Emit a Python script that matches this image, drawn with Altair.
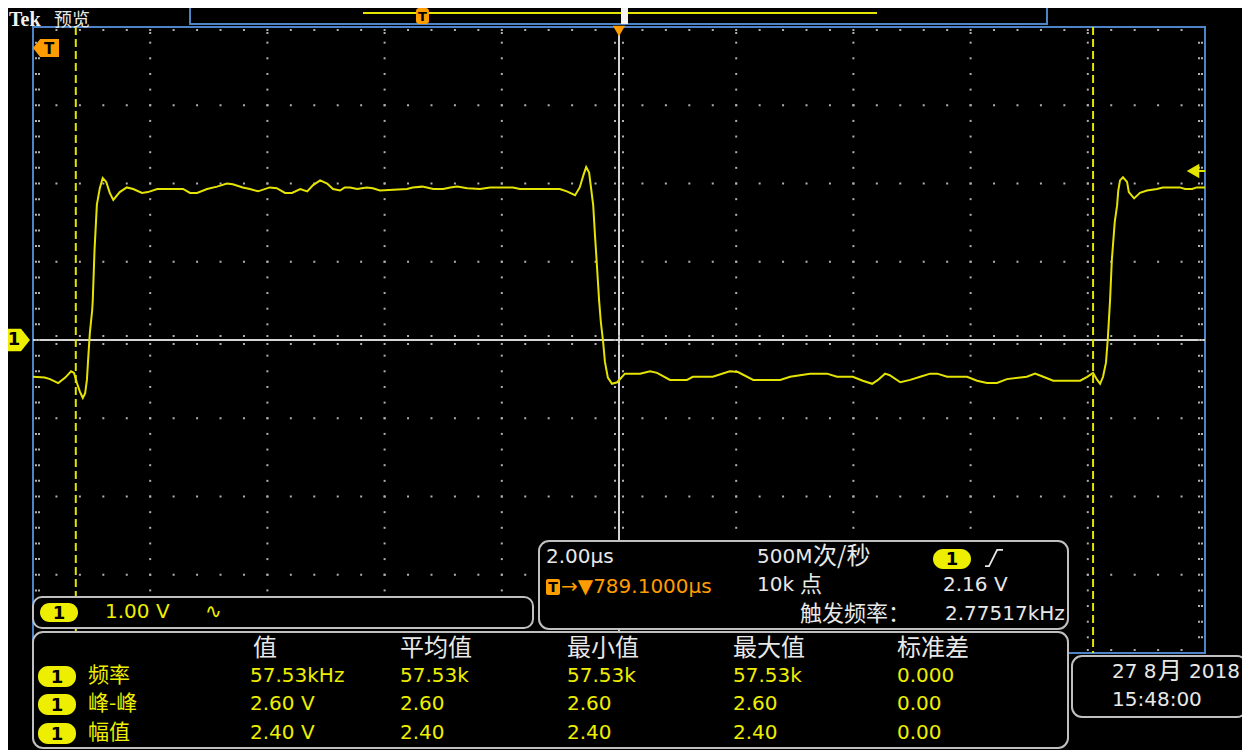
import altair as alt
import numpy as np
import pandas as pd

t_us = [-10.00, -9.80, -9.71, -9.57, -9.45, -9.35, -9.30, -9.25, -9.20, -9.15,
        -9.11, -9.08, -9.06, -9.03, -8.99, -8.98, -8.95, -8.91, -8.86, -8.81,
        -8.75, -8.69, -8.63, -8.52, -8.40, -8.29, -8.14, -8.04, -7.88, -7.44,
        -7.32, -7.20, -7.03, -6.86, -6.69, -6.59, -6.42, -6.30, -6.16, -5.96,
        -5.84, -5.70, -5.58, -5.44, -5.32, -5.22, -5.10, -4.98, -4.88, -4.76,
        -4.68, -4.59, -4.47, -4.39, -4.30, -4.20, -4.08, -3.62, -3.52, -3.36,
        -3.28, -3.17, -3.00, -2.88, -2.76, -2.59, -2.37, -2.20, -2.03, -1.81,
        -1.69, -1.01, -0.89, -0.75, -0.67, -0.61, -0.56, -0.51, -0.44, -0.41,
        -0.38, -0.34, -0.31, -0.27, -0.24, -0.19, -0.12, -0.03, 0.10, 0.36,
        0.53, 0.65, 0.87, 1.16, 1.26, 1.60, 1.89, 2.03, 2.29, 2.75,
        2.92, 3.26, 3.55, 3.72, 3.99, 4.16, 4.32, 4.42, 4.54, 4.62,
        4.80, 4.97, 5.14, 5.31, 5.43, 5.60, 5.94, 6.11, 6.28, 6.45,
        6.62, 6.96, 7.10, 7.24, 7.41, 7.87, 7.99, 8.09, 8.16, 8.21,
        8.26, 8.31, 8.34, 8.38, 8.41, 8.46, 8.50, 8.52, 8.55, 8.60,
        8.67, 8.70, 8.79, 8.89, 9.01, 9.18, 9.28, 9.57, 9.66, 9.78,
        9.86, 10.00]
volts = [-0.47, -0.48, -0.50, -0.55, -0.48, -0.40, -0.42, -0.55, -0.66, -0.74,
         -0.68, -0.51, -0.26, 0.09, 0.38, 0.51, 1.15, 1.73, 1.94, 2.07,
         2.02, 1.88, 1.79, 1.89, 1.95, 1.93, 1.88, 1.89, 1.93, 1.93,
         1.88, 1.88, 1.93, 1.96, 2.00, 1.99, 1.95, 1.93, 1.90, 1.95,
         1.94, 1.88, 1.88, 1.93, 1.90, 1.98, 2.04, 2.00, 1.93, 1.91,
         1.95, 1.95, 1.93, 1.94, 1.95, 1.94, 1.91, 1.93, 1.95, 1.96,
         1.95, 1.93, 1.93, 1.95, 1.96, 1.94, 1.93, 1.95, 1.95, 1.95,
         1.93, 1.93, 1.90, 1.85, 1.95, 2.10, 2.21, 2.14, 1.72, 1.34,
         0.99, 0.51, 0.23, -0.03, -0.28, -0.48, -0.56, -0.54, -0.43, -0.43,
         -0.40, -0.42, -0.51, -0.51, -0.47, -0.47, -0.40, -0.41, -0.51, -0.51,
         -0.47, -0.43, -0.43, -0.47, -0.47, -0.52, -0.56, -0.51, -0.43, -0.45,
         -0.54, -0.51, -0.47, -0.43, -0.43, -0.47, -0.47, -0.52, -0.55, -0.55,
         -0.50, -0.47, -0.43, -0.47, -0.52, -0.52, -0.47, -0.42, -0.51, -0.56,
         -0.47, -0.29, 0.00, 0.51, 1.02, 1.51, 1.72, 1.91, 2.04, 2.08,
         2.02, 1.89, 1.81, 1.88, 1.91, 1.93, 1.95, 1.95, 1.93, 1.93,
         1.95, 1.95]

cursor_t = [-9.27, 8.09]
trigger_level_v = [2.16]
trigger_pos_t = [0.0]
ground_v = [0.0]

time_domain = [-10, 10]      # 2.00 us/div, 10 divisions
volt_domain = [-4, 4]        # 1.00 V/div, 8 divisions
major_t = [-8, -6, -4, -2, 2, 4, 6, 8]
major_v = [-3, -2, -1, 1, 2, 3]
minor_t = [round(-10 + 0.4 * i, 2) for i in range(51)]
minor_v = [round(-4 + 0.2 * i, 2) for i in range(41)]

meas_headers = ["值", "平均值", "最小值", "最大值", "标准差"]
meas_names = ["频率", "峰-峰", "幅值"]
meas_values = [["57.53kHz", "57.53k", "57.53k", "57.53k", "0.000"],
               ["2.60 V", "2.60", "2.60", "2.60", "0.00"],
               ["2.40 V", "2.40", "2.40", "2.40", "0.00"]]

# ---------------- styling / layout ----------------
W, H = 1172, 626
OX, OY = 33, 27            # screen position of the plot origin
BG = "black"
TRACE = "#e4e400"
YEL = "#eeee00"
ORG = "#ff9c00"
WHT = "#e8e8e8"
GRY = "#c0c0c0"
BLUE = "#4d84c8"
DOT = "#b0b0b0"
LAT = "DejaVu Sans"
CJK = "Noto Sans CJK SC"

xs = alt.Scale(domain=time_domain, nice=False, zero=False)
ys = alt.Scale(domain=volt_domain, nice=False, zero=False)

one = pd.DataFrame({"k": [0]})


def X(f):
    return alt.X(f"{f}:Q", scale=xs, axis=None)


def Y(f):
    return alt.Y(f"{f}:Q", scale=ys, axis=None)


def sx(x):
    return x - OX


def sy(y):
    return y - OY


def text(s, x, y, color=WHT, size=20, font=LAT, weight="normal", align="left", baseline="middle"):
    return alt.Chart(one).mark_text(
        text=s, align=align, baseline=baseline, font=font, fontSize=size,
        fontWeight=weight, color=color
    ).encode(x=alt.value(sx(x)), y=alt.value(sy(y)))


def rect(x1, y1, x2, y2, fill, stroke=None, sw=0, r=0):
    kw = dict(fill=fill, cornerRadius=r)
    if stroke:
        kw.update(stroke=stroke, strokeWidth=sw)
    else:
        kw.update(strokeWidth=0)
    return alt.Chart(one).mark_rect(**kw).encode(
        x=alt.value(sx(x1)), x2=alt.value(sx(x2)),
        y=alt.value(sy(y1)), y2=alt.value(sy(y2)))


def pill(x1, y1, x2, y2):
    return [rect(x1, y1, x2, y2, YEL, r=10),
            text("1", (x1 + x2) / 2, (y1 + y2) / 2 + 1, "black", 18, LAT, "bold", "center")]


layers = []

# grid dots on the major divisions
grid = pd.DataFrame(
    [(t, v) for t in major_t for v in minor_v[1:-1]] +
    [(t, v) for v in major_v for t in minor_t[1:-1]], columns=["t", "v"])
layers.append(alt.Chart(grid).mark_square(size=4, color=DOT, opacity=1).encode(x=X("t"), y=Y("v")))

# centre cross-hair
layers.append(alt.Chart(pd.DataFrame({"t": [0.0]})).mark_rule(color="#d4d4d4", strokeWidth=2).encode(x=X("t")))
layers.append(alt.Chart(pd.DataFrame({"v": [0.0]})).mark_rule(color="#d4d4d4", strokeWidth=2).encode(y=Y("v")))
ch = pd.DataFrame({"t": minor_t[1:-1], "v": 0.0})
cv = pd.DataFrame({"v": minor_v[1:-1], "t": 0.0})
for off in (-4, 4):
    layers.append(alt.Chart(ch).mark_square(size=4, color=DOT, opacity=1, yOffset=off).encode(x=X("t"), y=Y("v")))
    layers.append(alt.Chart(cv).mark_square(size=4, color=DOT, opacity=1, xOffset=off).encode(x=X("t"), y=Y("v")))

# edge ticks
top = pd.DataFrame({"t": minor_t[1:-1], "v": 4.0})
bot = pd.DataFrame({"t": minor_t[1:-1], "v": -4.0})
lef = pd.DataFrame({"v": minor_v[1:-1], "t": -10.0})
rig = pd.DataFrame({"v": minor_v[1:-1], "t": 10.0})
topmaj = pd.DataFrame({"t": major_t, "v": 4.0})
layers.append(alt.Chart(top).mark_square(size=4, color=DOT, opacity=1, yOffset=3).encode(x=X("t"), y=Y("v")))
layers.append(alt.Chart(topmaj).mark_square(size=4, color=DOT, opacity=1, yOffset=6).encode(x=X("t"), y=Y("v")))
layers.append(alt.Chart(bot).mark_square(size=4, color=DOT, opacity=1, yOffset=-3).encode(x=X("t"), y=Y("v")))
for off in (3, 6):
    layers.append(alt.Chart(lef).mark_square(size=4, color=DOT, opacity=1, xOffset=off).encode(x=X("t"), y=Y("v")))
    layers.append(alt.Chart(rig).mark_square(size=4, color=DOT, opacity=1, xOffset=-off).encode(x=X("t"), y=Y("v")))

# cursors
layers.append(alt.Chart(pd.DataFrame({"t": cursor_t})).mark_rule(
    color=TRACE, strokeWidth=2, strokeDash=[8, 4]).encode(x=X("t")))

# waveform
wave = pd.DataFrame({"t": t_us, "v": volts})
layers.append(alt.Chart(wave).mark_line(color=TRACE, strokeWidth=2, clip=True).encode(x=X("t"), y=Y("v")))

# trigger level arrow (right edge)
tl = pd.DataFrame({"v": trigger_level_v})
layers.append(alt.Chart(tl).mark_point(shape="triangle-left", size=210, filled=True, color=TRACE, opacity=1).encode(
    x=alt.value(sx(1193)), y=Y("v")))
layers.append(alt.Chart(tl).mark_rule(color=TRACE, strokeWidth=2).encode(
    x=alt.value(sx(1196)), x2=alt.value(sx(1205)), y=Y("v")))

# trigger position marker (top)
tp = pd.DataFrame({"t": trigger_pos_t})
layers.append(alt.Chart(tp).mark_point(shape="triangle-down", size=150, filled=True, color=ORG, opacity=1).encode(
    x=X("t"), y=alt.value(sy(31))))

# channel 1 ground marker (left)
gd = pd.DataFrame({"v": ground_v})
layers.append(alt.Chart(gd).mark_point(
    shape="M-1,-0.75 L0.4,-0.75 L1,0 L0.4,0.75 L-1,0.75 Z", size=900, filled=True,
    color=YEL, opacity=1, clip=False).encode(x=alt.value(sx(15)), y=Y("v")))
layers.append(alt.Chart(gd).mark_text(text="1", fontSize=18, fontWeight="bold", font=LAT, color="black",
                                      align="center", baseline="middle").encode(x=alt.value(sx(14)), y=Y("v")))

# left "T" tag
layers.append(alt.Chart(one).mark_point(
    shape="M-1,0 L-0.45,-0.7 L1,-0.7 L1,0.7 L-0.45,0.7 Z", size=676, filled=True,
    color=ORG, opacity=1).encode(x=alt.value(sx(46)), y=alt.value(sy(48))))
layers.append(text("T", 49, 49, "black", 15, LAT, "bold", "center"))

# header: Tek 预览 and record bar
layers.append(text("Tek", 9, 26, "#f2f2f2", 20, "Liberation Serif", "bold", baseline="alphabetic"))
layers.append(text("预览", 54, 26, WHT, 18, CJK, baseline="alphabetic"))
layers.append(rect(190, -2, 1047, 24, BG, BLUE, 2))
layers.append(alt.Chart(one).mark_rule(color=TRACE, strokeWidth=2).encode(
    x=alt.value(sx(363)), x2=alt.value(sx(877)), y=alt.value(sy(13))))
layers.append(rect(416, 8, 429, 24, ORG, r=3))
layers.append(text("T", 422.5, 17, "black", 13, LAT, "bold", "center"))
layers.append(rect(621, 3, 628, 24, "#f4f4f4"))

# ---------------- information panels ----------------
# channel box
layers.append(rect(33, 597, 533, 628, BG, GRY, 2, 9))
layers += pill(40, 603, 78, 622)
layers.append(text("1.00 V", 105, 612, YEL, 20))
layers.append(text("∿", 205, 612, YEL, 20))

# horizontal / acquisition / trigger box
layers.append(rect(539, 541, 1068, 629, BG, GRY, 2, 10))
layers.append(text("2.00µs", 546, 557, WHT, 20))
layers.append(text("500M", 757, 557, WHT, 20))
layers.append(text("次/秒", 813, 557, WHT, 24, CJK))
layers += pill(933, 549, 971, 569)
layers.append(alt.Chart(one).mark_point(
    shape="M-1,0.9 L-0.55,0.9 L0.35,-0.9 L1,-0.9", size=324, filled=False,
    color=WHT, strokeWidth=1.8, opacity=1).encode(x=alt.value(sx(994)), y=alt.value(sy(558))))
layers.append(rect(546, 579, 560, 595, ORG, r=2))
layers.append(text("T", 553, 588, "black", 14, LAT, "bold", "center"))
layers.append(text("→▼789.1000µs", 561, 587, ORG, 20))
layers.append(text("10k", 757, 585, WHT, 20))
layers.append(text("点", 800, 585, WHT, 22, CJK))
layers.append(text("2.16 V", 943, 585, WHT, 20))
layers.append(text("触发频率：", 800, 614, WHT, 22, CJK))
layers.append(text("2.77517kHz", 945, 614, WHT, 20))

# measurement table
layers.append(rect(33, 632, 1068, 748, BG, GRY, 2, 10))
col_x = [253, 400, 567, 733, 897]
row_y = [676, 704, 733]
for hx, h in zip(col_x, meas_headers):
    layers.append(text(h, hx, 649, WHT, 24, CJK))
for ry, name, vals in zip(row_y, meas_names, meas_values):
    layers += pill(38, ry - 10, 76, ry + 11)
    layers.append(text(name, 88, ry, YEL, 21, CJK))
    for cx, val in zip(col_x, vals):
        layers.append(text(val, cx - 3 if cx == 253 else cx, ry, YEL, 20))

# date box
layers.append(rect(1072, 656, 1247, 717, BG, GRY, 2, 10))
layers.append(text("27 8", 1112, 672, WHT, 20))
layers.append(text("月", 1158, 672, WHT, 24, CJK))
layers.append(text("2018", 1189, 672, WHT, 20))
layers.append(text("15:48:00", 1112, 700, WHT, 20))

chart = alt.layer(*layers).properties(
    width=W, height=H,
    padding={"left": 25, "top": 19, "right": 37, "bottom": 97},
    autosize=alt.AutoSizeParams(type="none"),
    background=BG,
).configure_view(stroke=BLUE, strokeWidth=2)

chart.save("out.html", embed_options={"renderer": "svg", "actions": False})
